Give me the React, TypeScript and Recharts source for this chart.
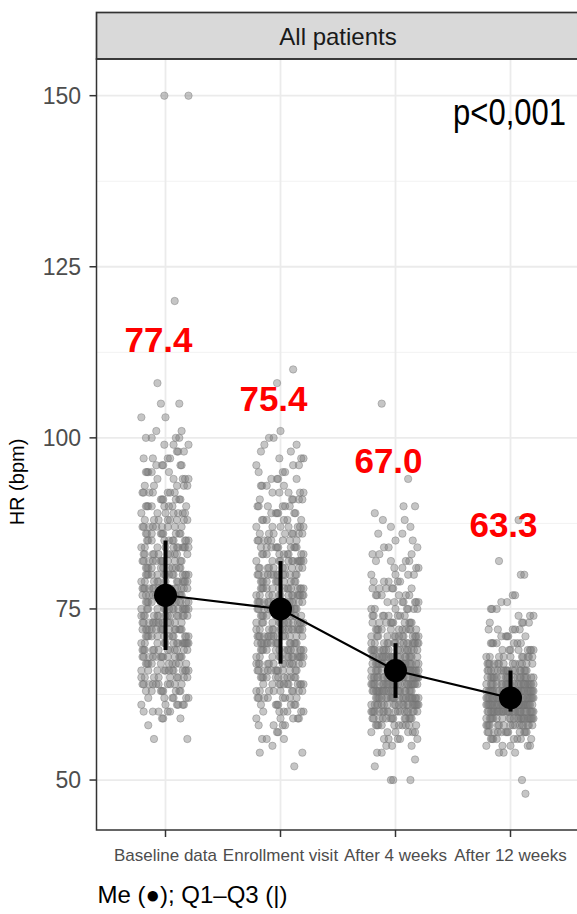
import React from 'react';
import { ComposedChart, Scatter, Line, XAxis, YAxis, ReferenceLine } from 'recharts';

const groups = ['Baseline data', 'Enrollment visit', 'After 4 weeks', 'After 12 weeks'];
const medians = [77, 75, 66, 62];
const q1 = [69, 67, 62, 60];
const q3 = [85, 82, 70, 66];
const meanText = ['77.4', '75.4', '67.0', '63.3'];
const meanLabelAt = [112.5, 103.9, 94.9, 85.5];
const yTicks = [50, 75, 100, 125, 150];
const yMinor = [62.5, 87.5, 112.5, 137.5];

// patients per whole bpm, counted from hrFrom[g]
const hrFrom = [56, 52, 50, 54];
const baselineCounts = [2, 0, 1, 3, 5, 6, 6, 8, 10, 9, 12, 10, 13, 12, 14, 12, 15, 13, 14, 15, 14, 13, 14, 12, 14, 11, 12, 10, 11, 10, 9, 9, 8, 7, 8, 6, 7, 5, 5, 5, 5, 4, 3, 3, 4, 2];
const enrollmentCounts = [1, 0, 2, 1, 3, 2, 4, 5, 6, 7, 8, 9, 11, 11, 12, 13, 14, 14, 15, 14, 15, 14, 13, 15, 14, 14, 14, 11, 13, 10, 12, 9, 10, 8, 8, 7, 6, 6, 6, 5, 5, 4, 4, 3, 3, 3, 2, 2, 2, 1];
const week4Counts = [3, 0, 1, 1, 2, 3, 5, 6, 10, 13, 18, 20, 22, 22, 24, 24, 24, 22, 20, 17, 16, 13, 11, 10, 8, 7, 7, 6, 6, 5, 4, 4, 4, 3, 3, 2, 2, 2, 2, 1, 2];
const week12Counts = [3, 5, 8, 12, 16, 22, 30, 32, 32, 28, 24, 20, 17, 13, 10, 8, 7, 5, 5, 4, 3, 3, 2, 2];
const outliers = [
  [103, 103, 105, 105, 108, 120, 150, 150],
  [108, 110],
  [94, 105],
  [48, 50, 80, 80, 82, 88],
];
// horizontal jitter (category units)
const jitter = [-0.19, 0.07, -0.03, 0.16, -0.12, 0.02, 0.2, -0.08, 0.11, -0.17, 0.04, -0.01, 0.14, -0.21, 0.09, -0.06, 0.18, -0.14, 0.0, 0.12, -0.1, 0.06, -0.2, 0.15, -0.04, 0.19, -0.15, 0.08, -0.07, 0.13, -0.18, 0.03, -0.11, 0.17, -0.02, 0.1, -0.16];

const countSets = [baselineCounts, enrollmentCounts, week4Counts, week12Counts];
const points: { x: number; y: number }[] = [];
countSets.forEach((counts, g) => {
  const vals: number[] = [];
  counts.forEach((n, i) => {
    for (let k = 0; k < n; k++) vals.push(hrFrom[g] + i);
  });
  outliers[g].forEach(v => vals.push(v));
  const seen: Record<number, number> = {};
  vals.forEach(h => {
    const k = seen[h] ?? 0;
    seen[h] = k + 1;
    points.push({ x: g + 1 + jitter[(k * 5 + h * 3 + g * 11) % jitter.length], y: h });
  });
});

const medData = groups.map((_, i) => ({ x: i + 1, y: medians[i] }));
const iqrData = groups.map((_, i) => [{ x: i + 1, y: q1[i] }, { x: i + 1, y: q3[i] }]);
const labelData = groups.map((_, i) => ({ x: i + 1, y: meanLabelAt[i], t: meanText[i] }));

const FONT = '"Liberation Sans", Arial, sans-serif';
const W = 600, H = 914;

const dot = (p: any) => (
  <circle cx={p.cx} cy={p.cy} r={3.7} fill="#7a7a7a" fillOpacity={0.44} stroke="#737373" strokeOpacity={0.45} strokeWidth={0.9} />
);
const bigDot = (p: any) => <circle cx={p.cx} cy={p.cy} r={11.5} fill="#000" />;
const meanLabel = (p: any) => (
  <text x={p.cx - 7} y={p.cy} textAnchor="middle" fill="#ff0000" fontSize={35} fontWeight="bold" fontFamily={FONT}>
    {p.payload.t}
  </text>
);

export default function App() {
  return (
    <div style={{ position: 'fixed', left: 0, top: 0, width: 577, height: 914, overflow: 'hidden', background: '#fff' }}>
      <ComposedChart width={W} height={H} data={medData} margin={{ top: 59, left: 36.5, right: 20.5, bottom: 44 }}>
        {yMinor.map(v => <ReferenceLine key={'m' + v} y={v} stroke="#f2f2f2" strokeWidth={1} zIndex={-100} />)}
        {yTicks.map(v => <ReferenceLine key={'h' + v} y={v} stroke="#ebebeb" strokeWidth={1.8} zIndex={-100} />)}
        {groups.map((_, i) => <ReferenceLine key={'v' + i} x={i + 1} stroke="#ebebeb" strokeWidth={1.8} zIndex={-100} />)}
        <XAxis type="number" dataKey="x" domain={[0.4, 4.6]} ticks={[1, 2, 3, 4]} allowDataOverflow
          tickFormatter={(v: number) => groups[v - 1]} axisLine={false} tickSize={7} tickMargin={12}
          tickLine={{ stroke: '#333', strokeWidth: 1.5 }} height={40} interval={0}
          tick={{ fill: '#4d4d4d', fontSize: 17, fontFamily: FONT }} />
        <YAxis type="number" domain={[42.7, 155.36]} ticks={yTicks} allowDataOverflow axisLine={false}
          tickSize={7} tickMargin={8.5} width={60} tickLine={{ stroke: '#333', strokeWidth: 1.5 }}
          tick={{ fill: '#4d4d4d', fontSize: 23, fontFamily: FONT }} />
        <Scatter data={points} dataKey="y" shape={dot} isAnimationActive={false} zIndex={50} />
        <Line data={medData} dataKey="y" stroke="#000" strokeWidth={2.2} dot={false} isAnimationActive={false} zIndex={700} />
        {iqrData.map((d, i) => (
          <Line key={'iqr' + i} data={d} dataKey="y" stroke="#000" strokeWidth={4} dot={false} isAnimationActive={false} zIndex={700} />
        ))}
        <Scatter data={medData} dataKey="y" shape={bigDot} isAnimationActive={false} zIndex={800} />
        <Scatter data={labelData} dataKey="y" shape={meanLabel} isAnimationActive={false} zIndex={900} />
      </ComposedChart>
      <svg width={577} height={914} style={{ position: 'absolute', left: 0, top: 0, pointerEvents: 'none' }}>
        <rect x={96.5} y={12.5} width={483} height={46.5} fill="#d9d9d9" stroke="#333" strokeWidth={1.7} />
        <rect x={96.5} y={59} width={483} height={771} fill="none" stroke="#333" strokeWidth={1.5} />
        <text x={338} y={45} textAnchor="middle" fontSize={24} fill="#1a1a1a" fontFamily={FONT}>All patients</text>
        <text transform="translate(566,125) scale(1,1.18)" textAnchor="end" fontSize={31} fill="#000" fontFamily={FONT}>p&lt;0,001</text>
        <text transform="translate(24,482) rotate(-90)" textAnchor="middle" fontSize={20} fill="#000" fontFamily={FONT}>HR (bpm)</text>
        <text x={97.5} y={903} fontSize={24} fill="#000" fontFamily={FONT}>Me (●); Q1–Q3 (|)</text>
      </svg>
    </div>
  );
}
